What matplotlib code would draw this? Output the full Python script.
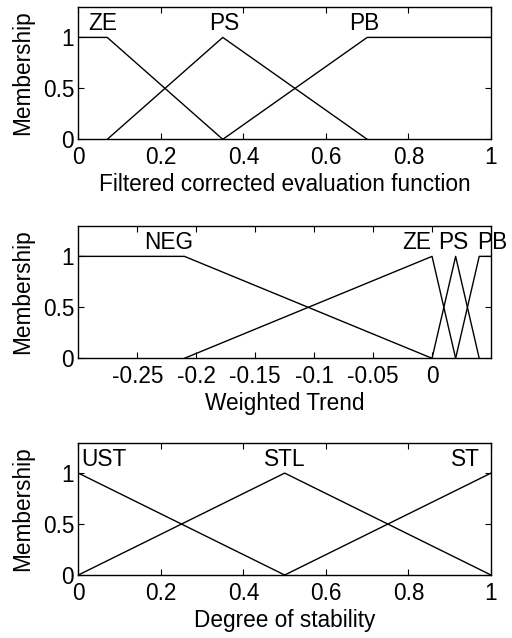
import matplotlib.pyplot as plt

plt.rcParams['font.family'] = ['Liberation Sans', 'DejaVu Sans']
FS = 16.3

# panel 1: filtered corrected evaluation function
x1_ze = [0, 0.07, 0.35]
y1_ze = [1, 1, 0]
x1_ps = [0.07, 0.35, 0.7]
y1_ps = [0, 1, 0]
x1_pb = [0.35, 0.7, 1]
y1_pb = [0, 1, 1]
names1 = ['ZE', 'PS', 'PB']
labx1 = [0.058, 0.354, 0.694]

# panel 2: weighted trend
x2_neg = [-0.3, -0.21, 0]
y2_neg = [1, 1, 0]
x2_ze = [-0.21, 0, 0.02]
y2_ze = [0, 1, 0]
x2_ps = [0, 0.02, 0.04]
y2_ps = [0, 1, 0]
x2_pb = [0.02, 0.04, 0.05]
y2_pb = [0, 1, 1]
names2 = ['NEG', 'ZE', 'PS', 'PB']
labx2 = [-0.223, -0.013, 0.018, 0.051]

# panel 3: degree of stability
x3_ust = [0, 0.5]
y3_ust = [1, 0]
x3_stl = [0, 0.5, 1]
y3_stl = [0, 1, 0]
x3_st = [0.5, 1]
y3_st = [0, 1]
names3 = ['UST', 'STL', 'ST']
labx3 = [0.006, 0.5, 0.974]
laba3 = ['left', 'center', 'right']

fig = plt.figure(figsize=(5.12, 6.38), dpi=100)
ax1 = fig.add_axes([0.153, 0.7816, 0.806, 0.2077])
ax2 = fig.add_axes([0.153, 0.4384, 0.806, 0.2077])
ax3 = fig.add_axes([0.153, 0.0987, 0.806, 0.2077])


def style(ax, xlim, xlabel):
    ax.set_xlim(xlim)
    ax.set_ylim(0, 1.3)
    ax.set_yticks([0, 0.5, 1])
    ax.set_yticklabels(['0', '0.5', '1'])
    ax.tick_params(direction='in', top=True, right=True, length=4, width=0.8,
                   labelsize=FS)
    ax.tick_params(axis='x', pad=5)
    ax.tick_params(axis='y', pad=3)
    for s in ax.spines.values():
        s.set_linewidth(1.0)
    ax.set_ylabel('Membership', fontsize=FS, labelpad=6)
    ax.set_xlabel(xlabel, fontsize=FS, labelpad=3)


kw = dict(color='black', lw=1.0)
ax1.plot(x1_ze, y1_ze, **kw)
ax1.plot(x1_ps, y1_ps, **kw)
ax1.plot(x1_pb, y1_pb, **kw)
for n, x in zip(names1, labx1):
    ax1.text(x, 1.07, n, ha='center', va='baseline', fontsize=FS)
style(ax1, (0, 1), 'Filtered corrected evaluation function')
ax1.set_xticks([0, 0.2, 0.4, 0.6, 0.8, 1])
ax1.set_xticklabels(['0', '0.2', '0.4', '0.6', '0.8', '1'])

ax2.plot(x2_neg, y2_neg, **kw)
ax2.plot(x2_ze, y2_ze, **kw)
ax2.plot(x2_ps, y2_ps, **kw)
ax2.plot(x2_pb, y2_pb, **kw)
for n, x in zip(names2, labx2):
    ax2.text(x, 1.07, n, ha='center', va='baseline', fontsize=FS)
style(ax2, (-0.3, 0.05), 'Weighted Trend')
ax2.set_xticks([-0.25, -0.2, -0.15, -0.1, -0.05, 0])
ax2.set_xticklabels(['-0.25', '-0.2', '-0.15', '-0.1', '-0.05', '0'])

ax3.plot(x3_ust, y3_ust, **kw)
ax3.plot(x3_stl, y3_stl, **kw)
ax3.plot(x3_st, y3_st, **kw)
for n, x, a in zip(names3, labx3, laba3):
    ax3.text(x, 1.07, n, ha=a, va='baseline', fontsize=FS)
style(ax3, (0, 1), 'Degree of stability')
ax3.set_xticks([0, 0.2, 0.4, 0.6, 0.8, 1])
ax3.set_xticklabels(['0', '0.2', '0.4', '0.6', '0.8', '1'])

fig.savefig('out.png', dpi=100)
